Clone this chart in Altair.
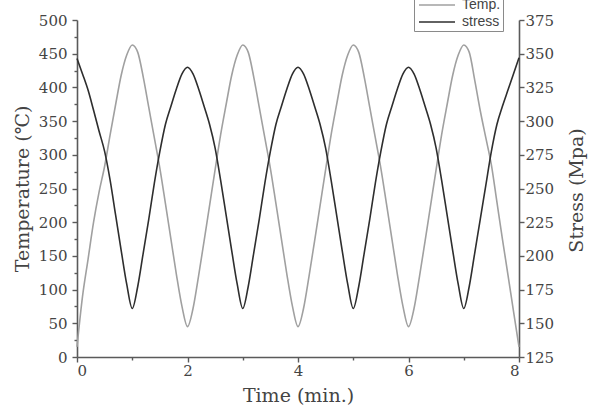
import altair as alt
import pandas as pd

# Time axis (min.)
time_min = [
    0.0, 0.1, 0.2, 0.3, 0.4, 0.5, 0.6, 0.7, 0.8, 0.9,
    1.0, 1.1, 1.2, 1.3, 1.4, 1.5, 1.6, 1.7, 1.8, 1.9,
    2.0, 2.1, 2.2, 2.3, 2.4, 2.5, 2.6, 2.7, 2.8, 2.9,
    3.0, 3.1, 3.2, 3.3, 3.4, 3.5, 3.6, 3.7, 3.8, 3.9,
    4.0, 4.1, 4.2, 4.3, 4.4, 4.5, 4.6, 4.7, 4.8, 4.9,
    5.0, 5.1, 5.2, 5.3, 5.4, 5.5, 5.6, 5.7, 5.8, 5.9,
    6.0, 6.1, 6.2, 6.3, 6.4, 6.5, 6.6, 6.7, 6.8, 6.9,
    7.0, 7.1, 7.2, 7.3, 7.4, 7.5, 7.6, 7.7, 7.8, 7.9,
    8.0,
]

# Temperature (deg C)
temperature = [
    15, 90, 145, 200, 245, 283, 330, 375, 418, 448,
    463, 452, 415, 370, 325, 280, 228, 175, 122, 75,
    45, 72, 120, 172, 225, 278, 330, 375, 418, 448,
    463, 452, 415, 370, 325, 280, 228, 175, 122, 75,
    45, 72, 120, 172, 225, 278, 330, 375, 418, 448,
    463, 452, 415, 370, 325, 280, 228, 175, 122, 75,
    45, 72, 120, 172, 225, 278, 330, 375, 418, 448,
    463, 452, 410, 365, 325, 285, 230, 175, 122, 68,
    15,
]

# Stress (MPa)
stress = [
    346.5, 335, 323, 308, 292.5, 277.5, 256, 230, 204, 179,
    161, 177.5, 202.5, 227.5, 254, 277.5, 297.5, 311, 324, 335,
    340, 335, 324, 311, 297.5, 280, 256, 230, 204, 179,
    161, 177.5, 202.5, 227.5, 254, 277.5, 297.5, 311, 324, 335,
    340, 335, 324, 311, 297.5, 280, 256, 230, 204, 179,
    161, 177.5, 202.5, 227.5, 254, 277.5, 297.5, 311, 324, 335,
    340, 335, 324, 311, 297.5, 280, 256, 230, 204, 179,
    161, 177.5, 202.5, 227.5, 252.5, 277.5, 297.5, 311, 323, 335,
    347,
]

series_names = ["Temp.", "stress"]
series_colors = ["#a0a0a0", "#2e2e2e"]

x_ticks = [0, 1, 2, 3, 4, 5, 6, 7, 8]
left_ticks = [0, 25, 50, 75, 100, 125, 150, 175, 200, 225, 250, 275, 300,
              325, 350, 375, 400, 425, 450, 475, 500]
right_ticks = [125, 150, 175, 200, 225, 250, 275, 300, 325, 350, 375]

temp_df = pd.DataFrame({"time": time_min, "value": temperature, "series": series_names[0]})
stress_df = pd.DataFrame({"time": time_min, "value": stress, "series": series_names[1]})

axis_color = "#5a5a5a"
label_color = "#444444"
serif = "DejaVu Serif"

x_enc = alt.X(
    "time:Q",
    scale=alt.Scale(domain=[0, 8], nice=False, zero=False),
    axis=alt.Axis(
        title="Time (min.)",
        values=x_ticks,
        labelExpr="datum.value % 2 === 0 ? datum.label : ''",
        tickSize={"expr": "datum.value % 2 === 0 ? 5 : 3"},
        grid=False,
        labelOverlap=False,
        labelPadding=1,
        titlePadding=8,
    ),
)

color_enc = alt.Color(
    "series:N",
    scale=alt.Scale(domain=series_names, range=series_colors),
    legend=alt.Legend(title=None),
)

temp_line = alt.Chart(temp_df).mark_line(strokeWidth=1.6, interpolate="monotone").encode(
    x=x_enc,
    y=alt.Y(
        "value:Q",
        scale=alt.Scale(domain=[0, 500], nice=False, zero=False),
        axis=alt.Axis(
            title="Temperature (℃)",
            orient="left",
            values=left_ticks,
            labelExpr="datum.value % 50 === 0 ? datum.label : ''",
            tickSize={"expr": "datum.value % 50 === 0 ? 5 : 3"},
            grid=False,
            labelOverlap=False,
            labelPadding=5,
            titlePadding=6,
        ),
    ),
    color=color_enc,
)

stress_line = alt.Chart(stress_df).mark_line(strokeWidth=1.6, interpolate="monotone").encode(
    x=x_enc,
    y=alt.Y(
        "value:Q",
        scale=alt.Scale(domain=[125, 375], nice=False, zero=False),
        axis=alt.Axis(
            title="Stress (Mpa)",
            orient="right",
            values=right_ticks,
            tickSize=5,
            grid=False,
            labelOverlap=False,
            labelPadding=1,
            titleAngle=270,
            titleX=57,
            titleY=170,
            titleAlign="center",
            titleBaseline="middle",
        ),
    ),
    color=color_enc,
)

chart = (
    alt.layer(temp_line, stress_line)
    .resolve_scale(y="independent")
    .properties(
        width=442,
        height=337,
        padding={"left": 77, "top": 20, "right": 74, "bottom": 55},
        autosize=alt.AutoSizeParams(type="none"),
    )
    .configure_view(stroke=None)
    .configure_axis(
        domainColor=axis_color,
        domainWidth=1.6,
        tickColor=axis_color,
        tickWidth=1.4,
        labelFont=serif,
        labelFontSize=15,
        labelColor=label_color,
        titleFont=serif,
        titleFontSize=19,
        titleFontWeight="normal",
        titleColor=label_color,
    )
    .configure_legend(
        orient="none",
        legendX=337,
        legendY=-27,
        padding=2,
        strokeColor="#8a8a8a",
        fillColor="white",
        symbolType="M-2,0H2",
        symbolSize=324,
        symbolStrokeWidth=1.6,
        symbolOffset=11,
        labelOffset=15,
        rowPadding=0,
        labelFont="Liberation Sans",
        labelFontSize=14,
        labelColor="#444444",
    )
)

chart.save("out.html", embed_options={"renderer": "svg", "actions": False})
